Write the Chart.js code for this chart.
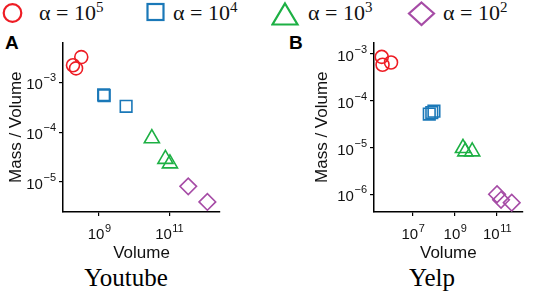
<!DOCTYPE html>
<html>
<head>
<meta charset="utf-8">
<script src="https://cdn.jsdelivr.net/npm/chart.js@4.4.0/dist/chart.umd.min.js"></script>
<style>
  body { margin: 0; width: 533px; height: 293px; background: #fff; position: relative; overflow: hidden; }
  #legend { position: absolute; top: 0; left: 0; height: 26px; font-family: "Liberation Serif", serif; font-size: 22px; color: #111; }
  .item { position: absolute; top: 0; white-space: nowrap; }
  .item svg { position: absolute; top: 1px; }
  .item span { position: absolute; top: 0px; }
  .item sup { font-size: 15px; vertical-align: 8px; line-height: 0; }
  .panel { position: absolute; font-family: "Liberation Sans", Arial, sans-serif; font-weight: bold; font-size: 19px; }
  .name { position: absolute; font-family: "Liberation Serif", serif; font-size: 25px; top: 264px; transform: translateX(-50%); }
  .box { position: absolute; top: 30px; height: 234px; }
</style>
</head>
<body>
<div id="legend">
  <div class="item" style="left:0">
    <svg width="26" height="26"><circle cx="12.5" cy="12" r="8.8" fill="none" stroke="#ee1c24" stroke-width="2.2"/></svg>
    <span style="left:39px">α = 10<sup>5</sup></span>
  </div>
  <div class="item" style="left:145px">
    <svg width="22" height="26"><rect x="2.5" y="3" width="16" height="16" fill="none" stroke="#1a78b8" stroke-width="2.2"/></svg>
    <span style="left:28px">α = 10<sup>4</sup></span>
  </div>
  <div class="item" style="left:271px">
    <svg width="30" height="26"><polygon points="14,2.5 26.5,23.5 1.5,23.5" fill="none" stroke="#1db044" stroke-width="2.2"/></svg>
    <span style="left:37px">α = 10<sup>3</sup></span>
  </div>
  <div class="item" style="left:406px">
    <svg width="32" height="26"><polygon points="15.5,1.5 28,12.5 15.5,24 3,12.5" fill="none" stroke="#a64ca6" stroke-width="2.2"/></svg>
    <span style="left:37px">α = 10<sup>2</sup></span>
  </div>
</div>
<div class="panel" style="left:5px;top:32px">A</div>
<div class="panel" style="left:289px;top:32px">B</div>
<div class="box" style="left:0;width:266px"><canvas id="chartA"></canvas></div>
<div class="box" style="left:270px;width:263px"><canvas id="chartB"></canvas></div>
<div class="name" style="left:126px">Youtube</div>
<div class="name" style="left:432px">Yelp</div>
<script>
const seriesNames = ["α = 10^5", "α = 10^4", "α = 10^3", "α = 10^2"];
const colors = ["#ee1c24", "#1a78b8", "#1db044", "#a64ca6"];
const shapes = ["circle", "rect", "triangle", "rectRot"];
const sizes = [6.5, 8.2, 8.7, 8.3];

// Youtube (panel A): volume / mass-per-volume
const ytVolume = [
  [1.8e8, 2.2e8, 3.1e8],
  [1.35e9, 1.4e9, 5.9e9],
  [3.2e10, 7.8e10, 1.05e11],
  [3.5e11, 1.23e12],
];
const ytDensity = [
  [2.2e-3, 1.9e-3, 3.2e-3],
  [5.6e-4, 5.4e-4, 3.3e-4],
  [7.5e-5, 2.9e-5, 2.35e-5],
  [8.2e-6, 4.0e-6],
];
const ytXTicks = [1e9, 1e11];
const ytYTicks = [1e-5, 1e-4, 1e-3];

// Yelp (panel B)
const yelpVolume = [
  [3.3e5, 3.6e5, 9.1e5],
  [6.0e7, 7.9e7, 1.0e8],
  [2.4e9, 3.1e9, 6.6e9],
  [1.0e11, 1.55e11, 5.0e11],
];
const yelpDensity = [
  [8.7e-4, 5.9e-4, 6.6e-4],
  [5.2e-5, 5.6e-5, 6.0e-5],
  [9.7e-6, 8.2e-6, 8.2e-6],
  [1.0e-6, 7.6e-7, 6.6e-7],
];
const yelpXTicks = [1e7, 1e9, 1e11];
const yelpYTicks = [1e-6, 1e-5, 1e-4, 1e-3];

const FONT = "'Liberation Sans', Arial, sans-serif";

function expOf(v) {
  return Math.round(Math.log10(v));
}

// draws "10" with a raised exponent at each tick (chart.js only does plain text)
const powerTicks = {
  id: "powerTicks",
  afterDraw(chart) {
    const ctx = chart.ctx;
    ctx.save();
    ctx.fillStyle = "#111";
    ctx.textBaseline = "alphabetic";
    const xs = chart.scales.x;
    xs.ticks.forEach((t) => {
      let px = xs.getPixelForValue(t.value);
      let e = String(expOf(t.value)).replace("-", "−");
      ctx.font = "15px " + FONT;
      let w1 = ctx.measureText("10").width;
      ctx.font = "11px " + FONT;
      let w2 = ctx.measureText(e).width;
      let x0 = px - (w1 + w2) / 2;
      let base = xs.top + 27;
      ctx.font = "15px " + FONT;
      ctx.textAlign = "left";
      ctx.fillText("10", x0, base);
      ctx.font = "11px " + FONT;
      ctx.fillText(e, x0 + w1 + 0.5, base - 7);
    });
    const ys = chart.scales.y;
    ys.ticks.forEach((t) => {
      let py = ys.getPixelForValue(t.value);
      let e = String(expOf(t.value)).replace("-", "−");
      ctx.font = "11px " + FONT;
      let w2 = ctx.measureText(e).width;
      let right = ys.right - 7;
      ctx.textAlign = "left";
      ctx.fillText(e, right - w2, py - 1);
      ctx.font = "15px " + FONT;
      ctx.textAlign = "right";
      ctx.fillText("10", right - w2 - 0.5, py + 7);
    });
    ctx.restore();
  },
};

function makeDatasets(xs, ys) {
  return xs.map((row, i) => ({
    label: seriesNames[i],
    data: row.map((x, j) => ({ x: x, y: ys[i][j] })),
    pointStyle: shapes[i],
    pointRadius: sizes[i],
    pointHoverRadius: sizes[i],
    borderColor: colors[i],
    backgroundColor: "rgba(0,0,0,0)",
    pointBorderWidth: 1.6,
    showLine: false,
  }));
}

function axis(min, max, ticks, title, isY, width) {
  return {
    type: "logarithmic",
    min: min,
    max: max,
    afterBuildTicks: (scale) => { scale.ticks = ticks.map((v) => ({ value: v })); },
    afterFit: (scale) => { if (isY) scale.width = width; else scale.height = 52; },
    grid: { display: true, drawOnChartArea: false, drawTicks: true, tickLength: 4, color: "#000", lineWidth: 1.2 },
    border: { display: true, color: "#000", width: 1.5 },
    ticks: {
      color: "rgba(0,0,0,0)",
      padding: 4,
      maxRotation: 0,
      autoSkip: false,
      font: { family: FONT, size: 14 },
      callback: (v) => "10" + expOf(v),
    },
    title: {
      display: true,
      text: title,
      color: "#111",
      padding: isY ? { top: 6, bottom: 0 } : { top: 0, bottom: 0 },
      font: { family: FONT, size: 17 },
    },
  };
}

function makeChart(id, xs, ys, xr, yr, xt, yt, padLeft, yWidth, padRight) {
  return new Chart(document.getElementById(id).getContext("2d"), {
    type: "scatter",
    data: { datasets: makeDatasets(xs, ys) },
    options: {
      responsive: true,
      maintainAspectRatio: false,
      animation: false,
      layout: { padding: { left: padLeft, right: padRight, top: 12, bottom: 0 } },
      plugins: { legend: { display: false }, tooltip: { enabled: false } },
      scales: {
        x: axis(xr[0], xr[1], xt, "Volume", false),
        y: axis(yr[0], yr[1], yt, "Mass / Volume", true, yWidth),
      },
    },
    plugins: [powerTicks],
  });
}

makeChart("chartA", ytVolume, ytDensity, [Math.pow(10, 7.97), Math.pow(10, 12.45)], [Math.pow(10, -5.6), Math.pow(10, -2.2)], ytXTicks, ytYTicks, 0, 63, 46);
makeChart("chartB", yelpVolume, yelpDensity, [Math.pow(10, 5.15), Math.pow(10, 12.22)], [Math.pow(10, -6.38), Math.pow(10, -2.75)], yelpXTicks, yelpYTicks, 36, 68, 0);
</script>
</body>
</html>
